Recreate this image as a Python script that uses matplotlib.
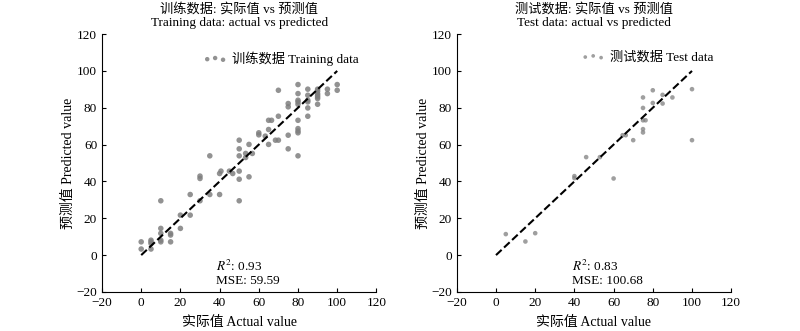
import matplotlib
matplotlib.use("Agg")
import matplotlib.pyplot as plt
import numpy as np

plt.rcParams['font.family'] = ['Liberation Serif', 'Noto Sans CJK SC']
plt.rcParams['mathtext.fontset'] = 'stix'
plt.rcParams['axes.unicode_minus'] = True

# training set: actual vs predicted
train_actual = [0, 0, 5, 5, 5, 5, 10, 10, 10, 10, 10, 15, 15, 15, 20, 20, 25, 25,
                30, 30, 30, 35, 35, 40, 40, 40.7, 45, 46.7,
                50, 50, 50, 50, 50, 50, 53.3, 53.3, 55, 55, 56.7, 60, 60, 63.3,
                65, 65, 65, 66.5, 68.5, 70, 70, 70,
                75, 75, 75, 75,
                80, 80, 80, 80, 80, 80, 80, 80, 80, 80,
                85, 85, 85, 85, 85, 85,
                90, 90, 90, 90, 90, 90, 90,
                95, 95, 100, 100]
train_pred = [7.2, 3.3, 8.1, 7.2, 6.3, 3.3, 14.5, 11.8, 8.1, 7.2, 29.5, 11.8, 10.9, 7.2, 21.7, 14.5, 32.9, 21.7,
              42.9, 41.6, 29.5, 53.9, 32.9, 44.3, 32.9, 45.6, 45.6, 44.3,
              62.4, 57.7, 53.9, 45.6, 41.2, 29.5, 55.2, 53.0, 60.1, 42.5, 55.2, 66.4, 65.3, 64.6,
              73.2, 68.2, 60.1, 73.2, 62.4, 62.4, 75.4, 89.5,
              82.3, 80.5, 65.1, 57.7,
              92.6, 87.7, 84.1, 83.2, 81.9, 73.2, 68.7, 67.4, 66.4, 53.9,
              90.1, 86.8, 84.1, 83.2, 79.9, 75.4,
              90.1, 89.0, 87.7, 86.8, 85.9, 85.0, 81.9,
              90.1, 87.7, 92.6, 89.5]

# test set: actual vs predicted
test_actual = [5, 15, 20, 40, 40, 46, 53, 60, 64.6, 66.2, 70,
               75, 75, 75, 75, 75, 76.3, 80, 80, 85, 85, 90, 100, 100]
test_pred = [11.4, 7.4, 11.9, 42.9, 41.8, 53.2, 53.2, 41.6, 65.1, 65.1, 62.4,
             85.6, 79.9, 73.2, 68.4, 66.6, 73.2, 89.5, 82.6, 87.0, 82.3, 85.6, 90.1, 62.4]

ideal = [0, 100]
ticks = [-20, 0, 20, 40, 60, 80, 100, 120]

panels = [
    (train_actual, train_pred, '训练数据: 实际值 vs 预测值\nTraining data: actual vs predicted',
     '训练数据 Training data', '0.93', '59.59', 16, 0.85),
    (test_actual, test_pred, '测试数据: 实际值 vs 预测值\nTest data: actual vs predicted',
     '测试数据 Test data', '0.83', '100.68', 11, 0.75),
]

fig = plt.figure(figsize=(8, 3.31), dpi=100)
lefts = [0.1275, 0.571]

for i, (act, pred, title, lab, r2, mse, ms, alpha) in enumerate(panels):
    ax = fig.add_axes([lefts[i], 0.118, 0.343, 0.779])
    ax.scatter(act, pred, s=ms, color='#7f7f7f', alpha=alpha, edgecolors='none', label=lab)
    ax.plot(ideal, ideal, 'k--', lw=1.5)
    ax.set_xlim(-20, 120)
    ax.set_ylim(-20, 120)
    ax.set_xticks(ticks)
    ax.set_yticks(ticks)
    ax.tick_params(direction='in', labelsize=9.5, length=3)
    for s in ['top', 'right']:
        ax.spines[s].set_visible(False)
    ax.set_title(title, fontsize=9.5, linespacing=1.15, pad=6)
    ax.set_xlabel('实际值 Actual value', fontsize=10, labelpad=5)
    ax.set_ylabel('预测值 Predicted value', fontsize=10, labelpad=1)
    ax.legend(loc='upper right', frameon=False, scatterpoints=3, fontsize=9.5,
              handletextpad=0.4, handlelength=1.8, markerscale=0.8,
              bbox_to_anchor=(0.98, 0.98))
    ax.text(38 if i == 0 else 39, -2, f'$R^2$: {r2}\nMSE: {mse}', fontsize=9.5,
            va='top', ha='left', linespacing=1.1)

fig.savefig('out.png', dpi=100)
